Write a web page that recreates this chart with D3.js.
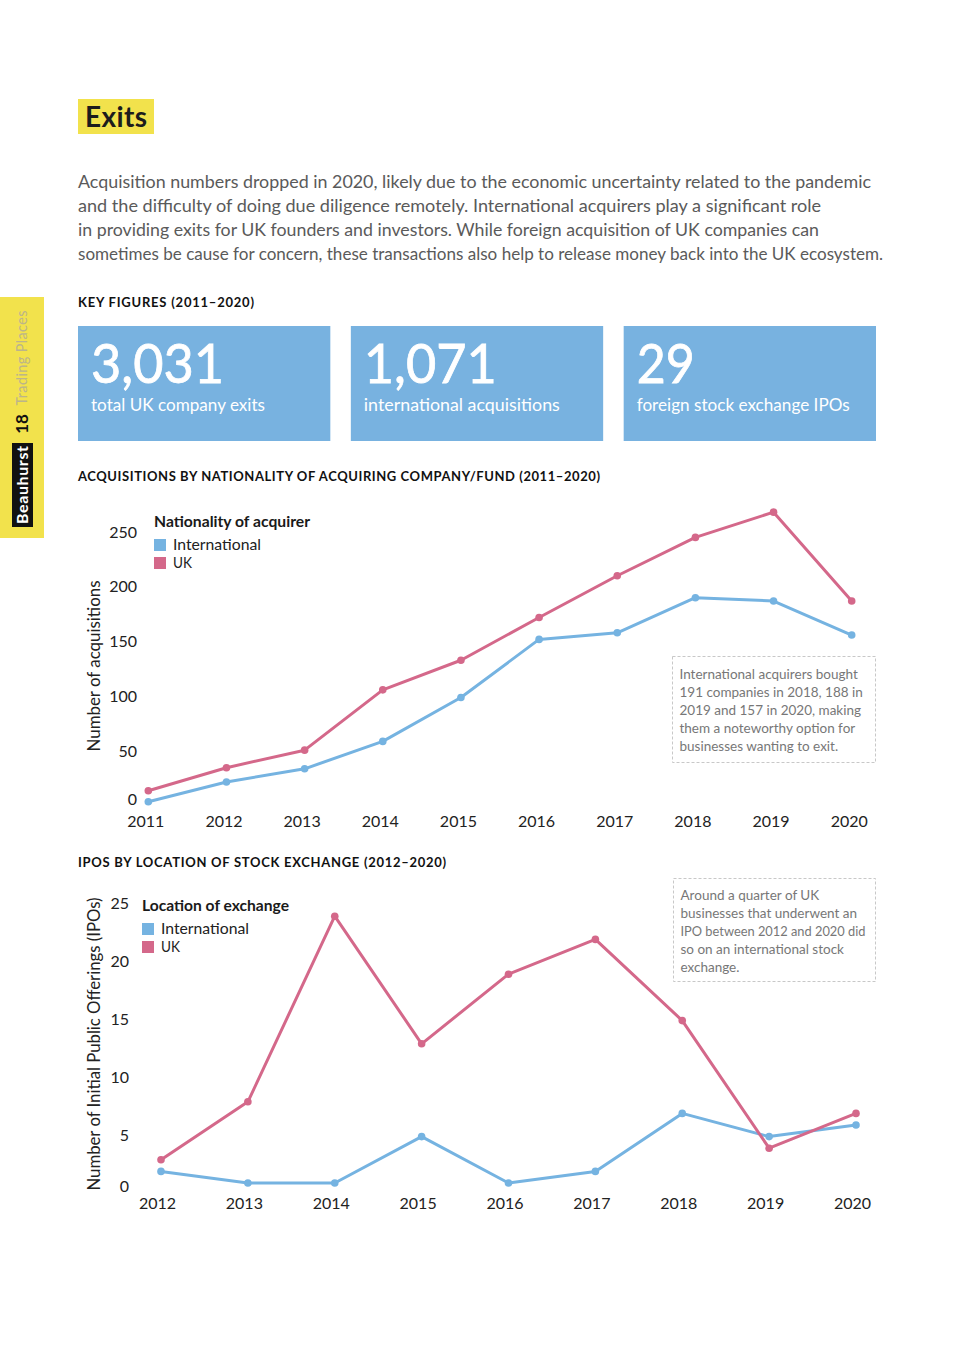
<!DOCTYPE html>
<html><head><meta charset="utf-8">
<script src="https://cdn.jsdelivr.net/npm/d3@7/dist/d3.min.js"></script>
<style>html,body{margin:0;padding:0;background:#fff;}svg{display:block;font-family:Lato,"Open Sans",sans-serif;}</style>
</head><body>
<script>
// ---------- DATA ----------
const introLines = [
  "Acquisition numbers dropped in 2020, likely due to the economic uncertainty related to the pandemic",
  "and the difficulty of doing due diligence remotely. International acquirers play a significant role",
  "in providing exits for UK founders and investors. While foreign acquisition of UK companies can",
  "sometimes be cause for concern, these transactions also help to release money back into the UK ecosystem."
];
const keyFigureValues = ["3,031", "1,071", "29"];
const keyFigureLabels = ["total UK company exits", "international acquisitions", "foreign stock exchange IPOs"];

const acqYears = [2011, 2012, 2013, 2014, 2015, 2016, 2017, 2018, 2019, 2020];
const acqInternational = [5, 23, 35, 60, 100, 153, 159, 191, 188, 157];
const acqUK = [15, 36, 52, 107, 134, 173, 211, 246, 269, 188];
const acqTicks = [0, 50, 100, 150, 200, 250];
const acqNote = ["International acquirers bought", "191 companies in 2018, 188 in", "2019 and 157 in 2020, making", "them a noteworthy option for", "businesses wanting to exit."];

const ipoYears = [2012, 2013, 2014, 2015, 2016, 2017, 2018, 2019, 2020];
const ipoInternational = [2, 1, 1, 5, 1, 2, 7, 5, 6];
const ipoUK = [3, 8, 24, 13, 19, 22, 15, 4, 7];
const ipoTicks = [0, 5, 10, 15, 20, 25];
const ipoNote = ["Around a quarter of UK", "businesses that underwent an", "IPO between 2012 and 2020 did", "so on an international stock", "exchange."];

const seriesNames = ["International", "UK"];

// ---------- STYLE ----------
const C = { blue: "#75B3E1", pink: "#D4688A", yellow: "#F2E24C", box: "#78B2E0", grey: "#666", dark: "#1c1c1c" };

const svg = d3.select("body").append("svg").attr("width", 954).attr("height", 1350);

// side tab
const tab = svg.append("g");
tab.append("rect").attr("x", 0).attr("y", 297).attr("width", 44).attr("height", 241).attr("fill", C.yellow);
tab.append("rect").attr("x", 12).attr("y", 443).attr("width", 21).attr("height", 84).attr("fill", "#111");
tab.append("text").attr("transform", "translate(28,485) rotate(-90)").attr("text-anchor", "middle")
  .attr("font-size", 16).attr("font-weight", 700).attr("fill", "#fff").attr("textLength", 78).text("Beauhurst");
tab.append("text").attr("transform", "translate(28,424) rotate(-90)").attr("text-anchor", "middle")
  .attr("font-size", 17).attr("font-weight", 700).attr("fill", "#111").text("18");
tab.append("text").attr("transform", "translate(27,358) rotate(-90)").attr("text-anchor", "middle")
  .attr("font-size", 14.5).attr("fill", "#bcb58a").attr("textLength", 95).text("Trading Places");

// title
svg.append("rect").attr("x", 78).attr("y", 99).attr("width", 76).attr("height", 35).attr("fill", C.yellow);
svg.append("text").attr("x", 85).attr("y", 127).attr("font-size", 28).attr("font-weight", 700).attr("fill", C.dark)
  .attr("textLength", 62).text("Exits");

// intro paragraph
const introWidths = [793, 743, 741, 805];
svg.append("g").selectAll("text").data(introLines).join("text")
  .attr("x", 78).attr("y", (d, i) => 188 + i * 24)
  .attr("font-size", 17.5).attr("fill", "#5a5a5a")
  .attr("textLength", (d, i) => introWidths[i]).attr("lengthAdjust", "spacingAndGlyphs")
  .text(d => d);

// section headings
function heading(t, y, w) {
  svg.append("text").attr("x", 78).attr("y", y).attr("font-size", 13).attr("font-weight", 700)
    .attr("fill", "#111").attr("textLength", w).attr("lengthAdjust", "spacing").text(t);
}
heading("KEY FIGURES (2011\u20132020)", 307, 176);
heading("ACQUISITIONS BY NATIONALITY OF ACQUIRING COMPANY/FUND (2011\u20132020)", 481, 522);
heading("IPOS BY LOCATION OF STOCK EXCHANGE (2012\u20132020)", 867, 368);

// key figure boxes
const boxX = d3.scaleBand().domain(d3.range(3)).range([78, 876]).paddingInner(20 / 266);
const numW = [133, 133, 58];
const lblW = [174, 196, 213];
const kg = svg.append("g").selectAll("g").data(keyFigureValues).join("g")
  .attr("transform", (d, i) => `translate(${boxX(i)},326)`);
kg.append("rect").attr("width", boxX.bandwidth()).attr("height", 115).attr("fill", C.box);
kg.append("text").attr("x", 13).attr("y", 57).attr("font-size", 55).attr("fill", "#fff")
  .attr("stroke", "#fff").attr("stroke-width", 0.8)
  .attr("textLength", (d, i) => numW[i]).attr("lengthAdjust", "spacingAndGlyphs").text(d => d);
kg.append("text").attr("x", 13).attr("y", 85).attr("font-size", 17).attr("fill", "#fff")
  .attr("textLength", (d, i) => lblW[i]).attr("lengthAdjust", "spacingAndGlyphs").text((d, i) => keyFigureLabels[i]);

// ---------- line chart helper ----------
function lineChart(o) {
  const g = svg.append("g");
  const x = d3.scalePoint().domain(o.years).range(o.xRange);
  const y = d3.scaleLinear().domain(o.yDomain).range(o.yRange);

  // y axis
  const ya = g.append("g").attr("transform", `translate(${o.yLabelX},0)`)
    .call(d3.axisLeft(y).tickValues(o.ticks).tickSize(0).tickPadding(0));
  ya.select(".domain").remove();
  ya.selectAll("text").attr("font-family", "Lato, sans-serif").attr("font-size", 16).attr("fill", "#222")
    .attr("dy", "0.25em");
  ya.selectAll(".tick").filter(d => d === 0).attr("transform", `translate(0,${y(0) - 6.5})`);

  // x axis
  const xa = g.append("g").attr("transform", `translate(${o.xLabelDx},${o.xLabelY})`)
    .call(d3.axisBottom(x).tickSize(0).tickPadding(0));
  xa.select(".domain").remove();
  xa.selectAll("text").attr("font-family", "Lato, sans-serif").attr("font-size", 16).attr("fill", "#222").attr("dy", "0.35em");

  // y title
  g.append("text").attr("transform", `translate(${o.titleX},${o.titleY}) rotate(-90)`).attr("text-anchor", "middle")
    .attr("font-size", 16.5).attr("fill", "#222").attr("textLength", o.titleW).attr("lengthAdjust", "spacingAndGlyphs").text(o.title);

  // lines
  const line = d3.line().x((d, i) => x(o.years[i])).y(d => y(d));
  [[o.intl, C.blue], [o.uk, C.pink]].forEach(([vals, col]) => {
    g.append("path").datum(vals).attr("d", line).attr("fill", "none").attr("stroke", col)
      .attr("stroke-width", 3).attr("stroke-linejoin", "round");
    g.append("g").selectAll("circle").data(vals).join("circle")
      .attr("cx", (d, i) => x(o.years[i])).attr("cy", d => y(d)).attr("r", 3.8).attr("fill", col);
  });

  // legend
  const lg = g.append("g").attr("transform", `translate(${o.legX},${o.legY})`);
  lg.append("text").attr("x", 0).attr("y", 0).attr("font-size", 15).attr("font-weight", 700).attr("fill", "#1a1a1a")
    .attr("textLength", o.legTitleW).attr("lengthAdjust", "spacingAndGlyphs").text(o.legTitle);
  seriesNames.forEach((n, i) => {
    lg.append("rect").attr("x", 0).attr("y", 12 + i * 18).attr("width", 12).attr("height", 12).attr("fill", i ? C.pink : C.blue);
    lg.append("text").attr("x", 19).attr("y", 23 + i * 18).attr("font-size", 15).attr("fill", "#222")
      .attr("textLength", i ? 19 : 88).attr("lengthAdjust", "spacingAndGlyphs").text(n);
  });

  // note
  const ng = g.append("g");
  ng.append("rect").attr("x", o.note.x).attr("y", o.note.y).attr("width", o.note.w).attr("height", o.note.h)
    .attr("fill", "none").attr("stroke", "#c8c8c8").attr("stroke-width", 1).attr("stroke-dasharray", "3,2");
  ng.selectAll("text").data(o.note.lines).join("text")
    .attr("x", o.note.x + 7).attr("y", (d, i) => o.note.y + o.note.dy + i * 17.9)
    .attr("font-size", 13.5).attr("fill", "#777").text(d => d)
    .each(function () {
      const maxW = o.note.w - 17;
      if (this.getComputedTextLength() > maxW) {
        d3.select(this).attr("textLength", maxW).attr("lengthAdjust", "spacingAndGlyphs");
      }
    });
}

lineChart({
  years: acqYears, intl: acqInternational, uk: acqUK, ticks: acqTicks,
  xRange: [148.3, 851.7], yDomain: [0, 250], yRange: [807.2, 533],
  yLabelX: 137, xLabelY: 821, xLabelDx: -3,
  title: "Number of acquisitions", titleX: 100, titleY: 666, titleW: 171,
  legTitle: "Nationality of acquirer", legTitleW: 156, legX: 154, legY: 527,
  note: { x: 672.5, y: 656.5, w: 203, h: 106, dy: 22.5, lines: acqNote }
});

lineChart({
  years: ipoYears, intl: ipoInternational, uk: ipoUK, ticks: ipoTicks,
  xRange: [161, 856], yDomain: [0, 25], yRange: [1194.6, 904.6],
  yLabelX: 129, xLabelY: 1203, xLabelDx: -4,
  title: "Number of Initial Public Offerings (IPOs)", titleX: 100, titleY: 1044, titleW: 293,
  legTitle: "Location of exchange", legTitleW: 147, legX: 142, legY: 911,
  note: { x: 673.5, y: 878.5, w: 202, h: 103, dy: 21.5, lines: ipoNote }
});
</script>
</body></html>
